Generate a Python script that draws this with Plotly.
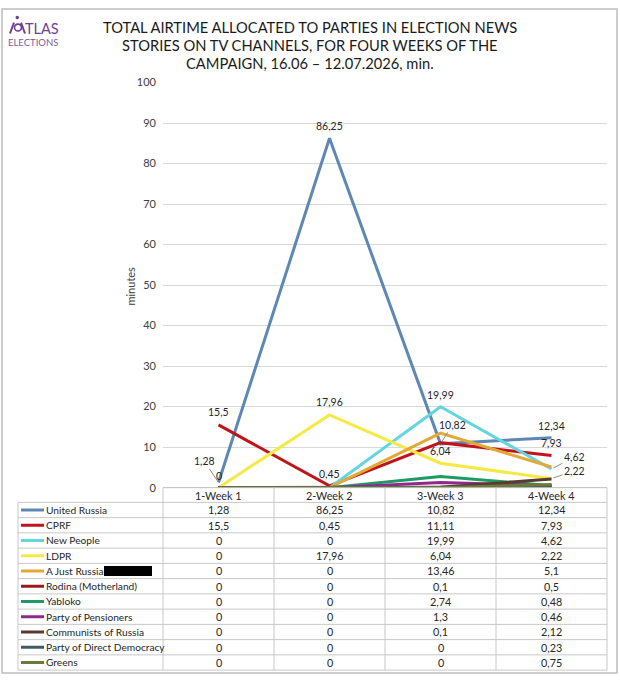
import plotly.graph_objects as go

W, H = 620, 682

weeks = ["1-Week 1", "2-Week 2", "3-Week 3", "4-Week 4"]
parties = ["United Russia", "CPRF", "New People", "LDPR", "A Just Russia",
           "Rodina (Motherland)", "Yabloko", "Party of Pensioners",
           "Communists of Russia", "Party of Direct Democracy", "Greens"]
united_russia = [1.28, 86.25, 10.82, 12.34]
cprf = [15.5, 0.45, 11.11, 7.93]
new_people = [0, 0, 19.99, 4.62]
ldpr = [0, 17.96, 6.04, 2.22]
a_just_russia = [0, 0, 13.46, 5.1]
rodina = [0, 0, 0.1, 0.5]
yabloko = [0, 0, 2.74, 0.48]
pensioners = [0, 0, 1.3, 0.46]
communists = [0, 0, 0.1, 2.12]
direct_democracy = [0, 0, 0, 0.23]
greens = [0, 0, 0, 0.75]
series = [united_russia, cprf, new_people, ldpr, a_just_russia, rodina,
          yabloko, pensioners, communists, direct_democracy, greens]
colors = ["#5E88B4", "#C0141B", "#62D6DE", "#F4EA42", "#E3A936", "#961B1B",
          "#1E9A63", "#8E2A8E", "#5B3A30", "#3F5C5E", "#6B7B3A"]

y_ticks = list(range(0, 101, 10))
title_lines = ["TOTAL AIRTIME ALLOCATED TO PARTIES IN ELECTION NEWS",
               "STORIES ON TV CHANNELS, FOR FOUR WEEKS OF THE",
               "CAMPAIGN, 16.06 – 12.07.2026, min."]


def fmt(v):
    return f"{v:g}".replace(".", ",")


def px(p):
    return p / W


def py(p):
    return 1 - p / H


x0, x1 = 163, 607
ytop, ybot = 77, 490
tbl_left = 18
hdr_top, hdr_bot = 490, 505
row_h = (676 - 505) / 11
TF = "Lato"
LOGO = "#6E3F93"

fig = go.Figure()
for name, vals, c in zip(parties, series, colors):
    fig.add_trace(go.Scatter(x=weeks, y=vals, mode="lines", name=name,
                             line=dict(color=c, width=3), showlegend=False,
                             cliponaxis=False))

annotations = []
shapes = []

# data labels: (series index, week index, xshift, yshift, leader)
labels = [
    (0, 0, -14, -21, True), (0, 1, 0, 12, False), (0, 2, 12, -19, True), (0, 3, 0, 12, False),
    (1, 0, 0, 13, False), (1, 1, 0, 12, False), (1, 3, 0, 13, False),
    (2, 2, 0, 12, False), (2, 3, 23, -12, True),
    (3, 0, 0, 12, False), (3, 1, 0, 13, False), (3, 2, 0, 12, False), (3, 3, 23, -8, True),
]
lfont = dict(size=10.5, color="#262626", family=TF)
for si, wi, dx, dy, lead in labels:
    v = series[si][wi]
    if lead:
        annotations.append(dict(x=weeks[wi], y=v, xref="x", yref="y", text=fmt(v),
                                showarrow=True, arrowhead=0, arrowwidth=1,
                                arrowcolor="#8C8C8C", ax=dx, ay=dy, standoff=2,
                                font=lfont))
    else:
        annotations.append(dict(x=weeks[wi], y=v, xref="x", yref="y", text=fmt(v),
                                showarrow=False, xshift=dx, yshift=dy, font=lfont))

# table grid
grid = "#C8C8C8"
col_edges = [x0 + i * (x1 - x0) / 4 for i in range(5)]
for ce in col_edges:
    shapes.append(dict(type="line", xref="paper", yref="paper", x0=px(ce), x1=px(ce),
                       y0=py(hdr_top), y1=py(676), line=dict(color=grid, width=1)))
shapes.append(dict(type="line", xref="paper", yref="paper", x0=px(tbl_left), x1=px(tbl_left),
                   y0=py(hdr_bot), y1=py(676), line=dict(color=grid, width=1)))
shapes.append(dict(type="line", xref="paper", yref="paper", x0=px(x0), x1=px(x1),
                   y0=py(hdr_top), y1=py(hdr_top), line=dict(color="#BFBFBF", width=1)))
for r in range(12):
    yy = hdr_bot + r * row_h
    shapes.append(dict(type="line", xref="paper", yref="paper", x0=px(tbl_left), x1=px(x1),
                       y0=py(yy), y1=py(yy), line=dict(color=grid, width=1)))

tfont = dict(size=10.2, color="#262626", family=TF)
vfont = dict(size=10.8, color="#262626", family=TF)
for wk in weeks:
    annotations.append(dict(x=wk, y=py((hdr_top + hdr_bot) / 2), xref="x", yref="paper",
                            text=wk, showarrow=False, font=vfont, yanchor="middle"))
for r, (name, vals, c) in enumerate(zip(parties, series, colors)):
    yc = hdr_bot + (r + 0.5) * row_h
    shapes.append(dict(type="line", xref="paper", yref="paper", x0=px(21), x1=px(44),
                       y0=py(yc), y1=py(yc), line=dict(color=c, width=3)))
    annotations.append(dict(x=px(44), y=py(yc), xref="paper", yref="paper", text=name,
                            showarrow=False, xanchor="left", yanchor="middle", font=tfont))
    for wk, v in zip(weeks, vals):
        annotations.append(dict(x=wk, y=py(yc), xref="x", yref="paper", text=fmt(v),
                                showarrow=False, yanchor="middle", font=vfont))

# redacted box after "A Just Russia"
yc = hdr_bot + 4.5 * row_h
shapes.append(dict(type="rect", xref="paper", yref="paper", x0=px(104), x1=px(152),
                   y0=py(yc - 5), y1=py(yc + 5), fillcolor="black", line=dict(width=0)))

# outer frame
shapes.append(dict(type="rect", xref="paper", yref="paper", x0=px(2), x1=px(617),
                   y0=py(679), y1=py(2), line=dict(color="#BDBDBD", width=1.5)))

# title
for line, yy in zip(title_lines, [20, 38.5, 57]):
    annotations.append(dict(x=px(310), y=py(yy), xref="paper", yref="paper", text=line,
                            showarrow=False, xanchor="center", yanchor="middle",
                            font=dict(size=14.7, color="#1A1A1A", family="Lato")))

# logo: dotted "A" mark + TLAS / ELECTIONS
shapes.append(dict(type="circle", xref="paper", yref="paper", x0=px(15.5), x1=px(19),
                   y0=py(12.5), y1=py(9), fillcolor=LOGO, line=dict(width=0)))
shapes.append(dict(type="circle", xref="paper", yref="paper", x0=px(14.5), x1=px(21.5),
                   y0=py(24.5), y1=py(17.5), line=dict(color=LOGO, width=1.6)))
shapes.append(dict(type="line", xref="paper", yref="paper", x0=px(14), x1=px(10),
                   y0=py(16), y1=py(27), line=dict(color=LOGO, width=2)))
shapes.append(dict(type="line", xref="paper", yref="paper", x0=px(21), x1=px(25),
                   y0=py(16), y1=py(27), line=dict(color=LOGO, width=2)))
annotations.append(dict(x=px(23), y=py(21.5), xref="paper", yref="paper", text="TLAS",
                        showarrow=False, xanchor="left", yanchor="middle",
                        font=dict(size=14.5, color=LOGO, family="Lato")))
annotations.append(dict(x=px(6), y=py(36), xref="paper", yref="paper", text="ELECTIONS",
                        showarrow=False, xanchor="left", yanchor="middle",
                        font=dict(size=9.5, color="#7A5C9C", family="Lato")))

# y axis title
annotations.append(dict(x=px(131), y=py(285), xref="paper", yref="paper", text="minutes",
                        textangle=-90, showarrow=False, xanchor="center", yanchor="middle",
                        font=dict(size=11, color="#404040", family=TF)))

fig.update_layout(
    width=W, height=H, margin=dict(l=0, r=0, t=0, b=0),
    paper_bgcolor="white", plot_bgcolor="white",
    xaxis=dict(domain=[px(x0), px(x1)], type="category", categoryorder="array",
               categoryarray=weeks, range=[-0.5, 3.5], showticklabels=False,
               showgrid=False, zeroline=False, showline=False, ticks=""),
    yaxis=dict(domain=[py(ybot), py(ytop)], range=[0, 100], tickvals=y_ticks,
               showgrid=True, gridcolor="#D9D9D9", gridwidth=1, zeroline=False,
               showline=False, ticks="", ticklabelstandoff=6,
               tickfont=dict(size=11, color="#404040", family=TF)),
    annotations=annotations, shapes=shapes,
)

fig.write_html("out.html")
